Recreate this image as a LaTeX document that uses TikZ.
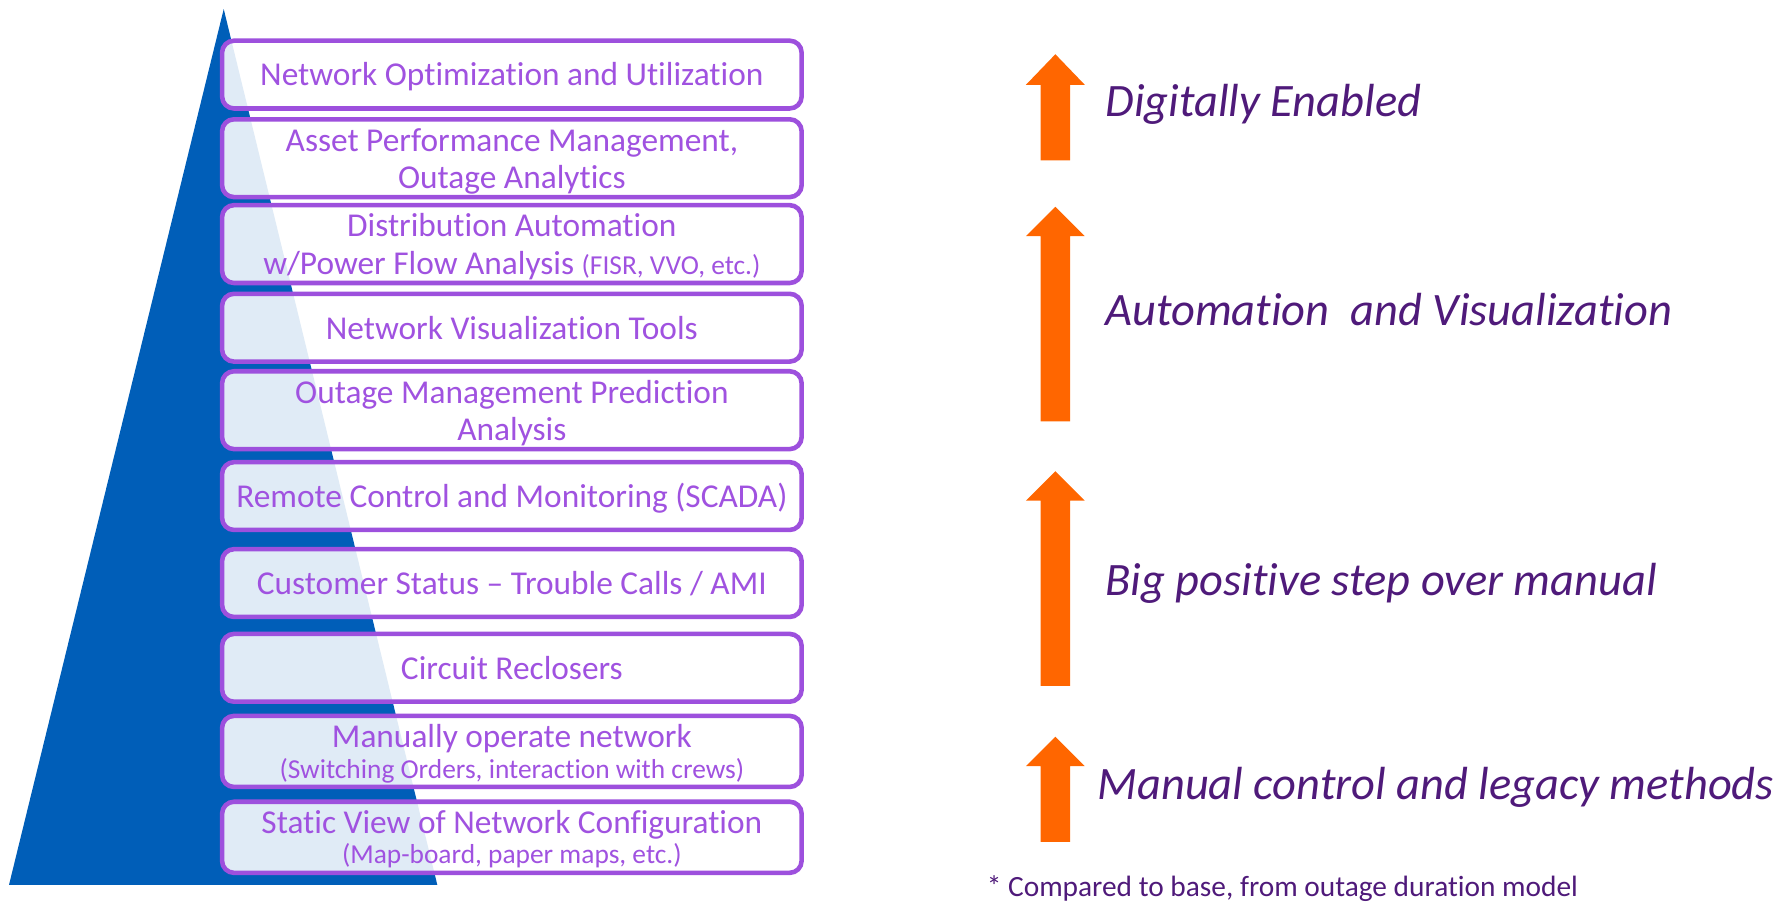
\documentclass[tikz,border=0pt]{standalone}
\usepackage{fontspec}
\setmainfont{Carlito}[Ligatures={TeX,NoCommon}]
\usepackage{tikz}
\usetikzlibrary{positioning}

\definecolor{pyrblue}{RGB}{0,94,184}
\definecolor{layerline}{RGB}{157,80,221}
\definecolor{layertext}{RGB}{160,82,224}
\definecolor{tagpurple}{RGB}{79,26,122}
\definecolor{arroworange}{RGB}{255,102,0}

\tikzset{
    layer/.style={draw=layerline, line width=2.3pt, rounded corners=6pt,
        fill=white, fill opacity=0.88, text opacity=1, text=layertext,
        minimum width=10.26cm, minimum height=1.2cm, inner sep=0pt,
        text width=10.2cm, align=flush center, font=\fontsize{16.8}{18.7}\selectfont,
        execute at begin node={\rule{0pt}{16pt}},
        execute at end node={\rule[-4.5pt]{0pt}{1pt}}},
    tag/.style={anchor=west, text=tagpurple, inner sep=0pt,
        font=\fontsize{23.4}{28}\selectfont\itshape},
    upfill/.style={fill=arroworange}
}
\newcommand{\smalltxt}{\fontsize{13.8}{15}\selectfont}

\begin{document}
\begin{tikzpicture}[x=0.02cm, y=-0.02cm]
    \useasboundingbox (0,0) rectangle (1570,799);
    % Pyramid
    \fill[pyrblue] (198,8) -- (387,783) -- (8,783) -- cycle;
    % Layers
    \node[layer] (opt) at (453,66) {Network Optimization and Utilization};
    \node[layer] (apm) at (453,140) {Asset Performance Management,\\ Outage Analytics};
    \node[layer] (da) at (453,216) {Distribution Automation\\ w/Power Flow Analysis {\smalltxt(FISR, VVO, etc.)}};
    \node[layer] (vis) at (453,290) {Network Visualization Tools};
    \node[layer] (oms) at (453,363) {Outage Management Prediction\\ Analysis};
    \node[layer] (scada) at (453,439) {Remote Control and Monitoring (SCADA)};
    \node[layer] (ami) at (453,516) {Customer Status -- Trouble Calls / AMI};
    \node[layer] (recl) at (453,591) {Circuit Reclosers};
    \node[layer] (manual) at (453,665) {Manually operate network\\[-3.4pt] {\smalltxt(Switching Orders, interaction with crews)}};
    \node[layer] (static) at (453,741) {Static View of Network Configuration\\[-3.4pt] {\smalltxt(Map-board, paper maps, etc.)}};
    % Arrows
    \fill[upfill] (921,142) -- (921,75) -- (908,75) -- (934,48) -- (960,75) -- (947,75) -- (947,142) -- cycle;
    \fill[upfill] (921,373) -- (921,209) -- (908,209) -- (934,183) -- (960,209) -- (947,209) -- (947,373) -- cycle;
    \fill[upfill] (921,607) -- (921,443) -- (908,443) -- (934,417) -- (960,443) -- (947,443) -- (947,607) -- cycle;
    \fill[upfill] (921,745) -- (921,678) -- (908,678) -- (934,652) -- (960,678) -- (947,678) -- (947,745) -- cycle;
    % Labels
    \node[tag] (digital) at (978,92) {Digitally Enabled};
    \node[tag] (auto) at (978,274) {Automation\ \ and Visualization};
    \node[tag] (step) at (978,516) {Big positive step over manual};
    \node[tag] (legacy) at (971,697) {Manual control and legacy methods};
    % Note
    \node[anchor=west, text=tagpurple, inner sep=0pt, font=\fontsize{14.8}{16}\selectfont] (note) at (873,786) {* Compared to base, from outage duration model};
\end{tikzpicture}
\end{document}
